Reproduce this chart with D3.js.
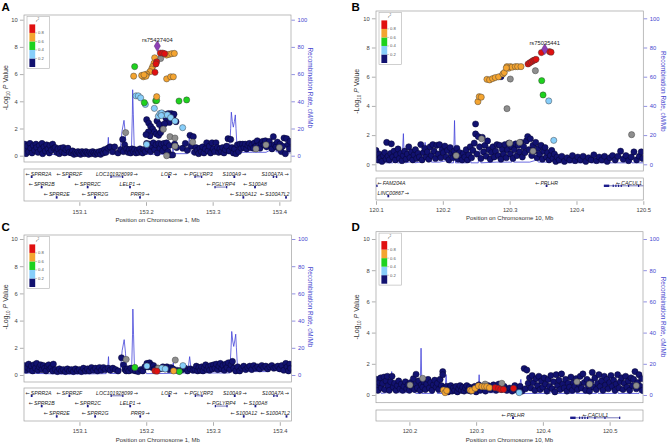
<!DOCTYPE html>
<html>
<head>
<meta charset="UTF-8">
<script src="https://cdn.jsdelivr.net/npm/d3@7"></script>
<style>
  body { margin: 0; background: #fff; }
  svg { font-family: "Liberation Sans", Arial, sans-serif; }
</style>
</head>
<body>
<svg id="chart" width="667" height="443"></svg>
<script>
// ---- data: [position Mb, -log10 p] ----
var navyA = [
  [153.018,0.85],[153.019,0.45],[153.020,0.15],[153.022,0.7],[153.024,0.3],[153.026,0.9],[153.027,0.55],[153.029,0.2],[153.031,0.75],[153.033,0.4],[153.035,0.85],[153.036,0.6],[153.038,0.25],[153.040,0.75],[153.042,0.45],[153.044,0.9],[153.045,0.15],[153.047,0.65],[153.049,0.35],[153.051,0.8],[153.053,0.5],[153.055,0.2],[153.056,0.75],[153.058,0.4],[153.060,0.85],[153.062,0.55],
  [153.064,0.6],[153.066,0.25],[153.068,0.5],[153.070,0.15],[153.072,0.55],[153.074,0.3],[153.076,0.6],[153.078,0.2],[153.080,0.45],[153.083,0.55],[153.085,0.25],
  [153.088,0.2],[153.090,0.35],[153.092,0.1],[153.094,0.25],[153.096,0.15],[153.098,0.3],[153.100,0.2],[153.102,0.1],[153.104,0.3],[153.106,0.2],[153.108,0.15],[153.110,0.3],[153.112,0.2],[153.114,0.1],[153.116,0.25],[153.118,0.15],[153.120,0.3],[153.122,0.2],[153.124,0.1],[153.126,0.25],[153.128,0.15],[153.130,0.3],[153.132,0.1],[153.134,0.35],[153.136,0.2],[153.138,0.45],[153.140,0.25],
  [153.143,0.55],[153.146,0.65],[153.150,0.3],[153.153,0.65],[153.158,0.2],[153.162,0.45],[153.165,1.2],[153.166,0.3],[153.168,0.8],
  [153.171,0.5],[153.173,0.25],[153.175,0.45],[153.177,0.2],[153.179,0.5],[153.181,0.3],[153.183,0.45],[153.185,0.2],[153.187,0.4],[153.189,0.25],[153.191,0.5],[153.193,0.3],[153.195,0.2],[153.197,0.45],[153.199,0.3],
  [153.201,2.65],[153.204,2.4],[153.207,2.15],[153.210,1.95],[153.2125,1.75],[153.2155,1.6],[153.219,1.5],[153.222,1.7],[153.224,2.0],[153.2165,2.55],[153.220,2.3],[153.2265,3.05],[153.230,2.75],[153.2335,3.1],[153.2355,2.9],[153.238,3.1],[153.2405,2.75],[153.242,3.05],[153.235,2.45],[153.228,2.35],[153.245,2.5],[153.2035,1.75],[153.206,1.45],[153.200,1.55],
  [153.201,0.9],[153.203,0.5],[153.205,0.85],[153.207,0.3],[153.209,0.7],[153.211,0.95],[153.213,0.45],[153.215,0.8],[153.217,0.2],[153.219,0.9],[153.221,0.55],[153.223,0.85],[153.225,0.35],[153.227,0.9],[153.229,0.6],[153.231,0.95],[153.233,0.3],[153.235,0.75],[153.237,0.05],[153.240,0.05],[153.243,0.85],[153.246,0.6],
  [153.255,0.55],[153.259,0.9],[153.262,0.4],[153.266,1.5],[153.268,0.7],[153.271,1.4],
  [153.273,0.25],[153.275,0.6],[153.277,0.4],[153.279,0.15],[153.281,0.55],[153.283,0.3],[153.285,0.65],[153.287,0.2],[153.289,0.5],[153.291,0.95],[153.293,0.35],[153.295,0.7],[153.297,0.2],[153.299,0.95],[153.301,0.5],[153.303,0.3],[153.305,0.95],[153.307,0.6],[153.309,0.25],[153.311,0.5],[153.313,0.3],[153.315,0.6],[153.317,0.2],[153.319,0.45],[153.321,0.7],[153.323,1.25],[153.325,0.35],[153.327,1.2],[153.329,0.6],[153.331,0.2],
  [153.333,0.5],[153.335,0.15],[153.337,0.8],[153.339,0.3],
  [153.341,0.85],[153.343,0.55],[153.345,0.85],[153.347,0.6],[153.349,0.85],[153.351,0.5],[153.353,0.75],[153.355,0.9],[153.357,0.6],[153.359,0.8],[153.361,0.55],[153.363,0.95],[153.365,0.7],[153.367,1.1],[153.369,0.75],[153.371,0.55],[153.373,0.9],[153.375,1.05],[153.377,0.8],[153.379,1.1],[153.381,0.65],[153.383,0.9],[153.385,1.05],[153.387,0.75],[153.389,0.5],[153.391,1.4],[153.393,0.8],[153.395,0.65],[153.397,1.0],[153.399,0.55],[153.401,0.85],[153.403,0.3],[153.405,0.7],[153.407,1.3],[153.409,0.15],[153.411,1.25],[153.413,0.8],[153.415,0.5],[153.416,1.05]
];
// [position, -log10 p, LD class]: 1 <0.4, 2 <0.6, 3 <0.8, 4 >=0.8, 5 no LD info
var snpsA = [
  [153.2215,7.55,4],[153.2250,7.55,4],[153.2280,7.5,4],[153.2160,6.9,4],[153.2150,6.75,4],[153.2135,6.13,4],
  [153.2310,7.4,3],[153.2345,7.45,3],[153.2385,7.5,3],[153.2425,7.52,3],[153.2130,7.2,3],[153.2120,6.8,3],[153.2100,6.55,3],[153.2085,6.37,3],[153.2060,6.18,3],[153.2010,6.0,3],[153.1990,5.9,3],[153.1960,5.8,3],[153.1935,5.9,3],[153.1815,5.85,3],[153.2310,5.65,3],[153.2370,5.8,3],[153.2410,5.8,3],[153.2160,4.34,3],[153.2000,5.85,3],[153.1970,5.95,3],
  [153.1830,6.55,2],[153.2145,4.04,2],[153.2160,4.06,2],[153.2495,4.02,2],[153.2610,4.1,2],[153.1975,3.9,2],
  [153.1850,4.4,1],[153.1885,4.4,1],[153.1920,4.25,1],[153.1990,3.77,1],[153.2125,3.48,1],[153.2185,2.9,1],[153.2210,3.1,1],[153.2235,3.15,1],[153.2275,3.0,1],[153.2320,3.0,1],[153.2370,2.8,1],[153.2435,2.55,1],[153.2550,2.06,1],[153.2010,0.83,1],[153.2230,2.95,1],
  [153.2220,7.15,5],[153.1970,5.9,5],[153.1695,1.7,5],[153.2360,1.4,5],[153.2435,1.3,5],[153.2435,0.7,5],[153.2310,0.0,5],[153.2700,1.0,5],[153.2260,1.95,5],[153.3800,0.8,5],[153.4000,0.6,5],[153.3650,0.5,5]
];
var indexA = [["rs75437404", 153.2170, 8.06]];

var navyC = [
  [153.018,0.7],[153.020,0.35],[153.022,0.55],[153.024,0.8],[153.026,0.4],[153.028,0.65],[153.030,0.3],[153.032,0.75],[153.034,0.5],[153.036,0.85],[153.038,0.35],[153.040,0.6],[153.042,0.75],[153.044,0.4],[153.046,0.7],[153.048,0.5],[153.050,0.3],[153.052,0.65],[153.054,0.75],[153.056,0.45],[153.058,0.55],[153.060,0.3],[153.061,0.8],
  [153.064,0.4],[153.067,0.25],[153.070,0.45],[153.073,0.3],[153.076,0.4],[153.079,0.25],[153.082,0.45],[153.085,0.3],[153.088,0.4],[153.091,0.25],[153.094,0.45],[153.097,0.3],[153.100,0.4],[153.103,0.25],[153.106,0.5],[153.109,0.3],[153.112,0.45],[153.115,0.3],[153.118,0.55],[153.121,0.35],[153.124,0.5],[153.127,0.3],[153.130,0.55],[153.133,0.35],[153.136,0.55],[153.139,0.4],
  [153.143,0.5],[153.146,0.35],[153.150,0.5],[153.154,0.4],[153.158,0.3],[153.163,1.27],[153.166,0.75],[153.168,0.4],[153.170,0.3],
  [153.172,0.45],[153.174,0.3],[153.177,0.5],[153.180,0.35],[153.184,0.3],[153.188,0.25],[153.192,0.4],[153.195,0.3],[153.198,0.6],
  [153.201,0.85],[153.203,0.6],[153.205,0.9],[153.207,0.75],[153.209,0.55],[153.211,0.7],[153.213,0.45],[153.217,0.5],[153.221,0.45],[153.225,0.6],[153.228,0.45],[153.231,0.6],[153.234,0.4],[153.237,0.55],[153.240,0.45],[153.246,0.35],[153.250,0.3],
  [153.254,0.4],[153.258,0.5],[153.262,0.3],[153.266,0.45],[153.270,0.35],
  [153.273,0.4],[153.275,0.65],[153.277,0.3],[153.279,0.55],[153.281,0.35],[153.283,0.6],[153.285,0.3],[153.287,0.55],[153.289,0.75],[153.291,0.4],[153.293,0.6],[153.295,0.35],[153.297,0.7],[153.299,0.45],[153.301,0.75],[153.303,0.5],[153.305,0.8],[153.307,0.4],[153.309,0.65],[153.311,0.85],[153.313,0.45],[153.315,0.7],[153.317,0.35],[153.319,0.8],[153.321,0.55],[153.323,0.9],[153.325,0.4],[153.327,0.75],[153.329,1.0],[153.331,0.5],
  [153.334,0.3],[153.337,0.6],[153.340,0.3],[153.343,0.5],[153.346,0.65],[153.349,0.4],[153.352,0.55],[153.355,0.65],[153.358,0.4],[153.361,0.7],[153.364,0.5],[153.367,0.6],[153.370,0.45],[153.373,0.7],[153.376,0.55],[153.379,0.65],[153.382,0.45],[153.385,0.6],[153.388,0.7],[153.391,0.5],[153.394,0.55],[153.397,0.65],[153.400,0.45],[153.403,0.7],[153.406,0.35],[153.409,0.85],[153.411,0.6],[153.413,0.3],[153.415,0.8],[153.416,0.5]
];
var snpsC = [
  [153.2130,0.3,4],[153.2160,0.28,4],[153.2410,0.3,3],[153.1830,0.56,2],[153.2495,0.25,2],
  [153.2010,0.66,1],[153.2235,0.5,1],[153.2285,0.45,1],[153.2550,0.69,1],
  [153.1700,1.15,5],[153.2435,1.1,5],[153.2180,0.5,5]
];
var indexC = [];

var navyB = [
  [120.100,0.95],[120.101,0.5],[120.103,0.3],[120.105,0.7],[120.107,0.45],[120.109,0.2],[120.111,0.6],[120.113,0.8],[120.115,0.35],[120.116,1.5],[120.118,0.55],[120.120,0.3],[120.122,0.75],[120.123,1.4],[120.125,0.5],[120.127,0.9],[120.129,0.3],[120.131,0.65],[120.133,1.05],[120.135,0.4],[120.137,0.75],[120.139,0.25],[120.141,0.6],[120.143,0.9],[120.145,0.35],[120.147,0.7],[120.149,1.2],[120.151,0.45],[120.153,0.85],[120.155,0.3],[120.157,0.65],[120.159,1.0],[120.161,0.4],[120.163,0.75],[120.165,0.5],[120.167,1.35],[120.169,0.3],[120.171,0.8],[120.173,1.1],[120.175,0.5],[120.177,0.85],[120.179,0.35],[120.181,1.2],[120.183,0.6],[120.185,1.35],[120.187,0.9],[120.189,0.4],[120.191,1.3],[120.193,0.7],[120.195,1.35],[120.197,0.45],[120.199,1.0],
  [120.201,0.8],[120.203,1.25],[120.205,0.5],[120.207,0.95],[120.209,0.3],[120.211,1.15],[120.213,0.7],[120.215,0.45],[120.217,0.9],[120.219,0.6],[120.221,1.1],[120.223,0.35],[120.225,0.8],[120.227,0.55],[120.229,0.3],[120.231,0.75],[120.233,0.5],[120.235,1.0],[120.237,0.3],[120.239,0.65],[120.241,1.2],[120.243,0.45],[120.245,0.95],[120.247,1.45],[120.249,2.76],[120.249,2.08],[120.251,0.7],[120.253,1.9],[120.255,1.2],[120.257,0.4],[120.259,1.85],[120.261,0.85],[120.263,1.3],[120.265,0.55],[120.267,1.6],[120.269,1.0],[120.271,0.35],[120.273,0.8],[120.275,1.2],[120.277,0.5],[120.279,0.9],[120.281,1.35],[120.283,0.6],[120.285,1.3],[120.287,0.35],[120.289,1.0],[120.291,0.7],[120.293,1.35],[120.295,0.45],[120.297,1.0],[120.299,1.45],
  [120.301,0.7],[120.303,1.2],[120.305,0.4],[120.307,1.0],[120.309,1.4],[120.311,0.6],[120.313,1.3],[120.315,0.85],[120.317,1.5],[120.319,0.5],[120.321,1.2],[120.323,0.8],[120.325,1.6],[120.327,1.9],[120.329,1.0],[120.331,1.75],[120.333,0.6],[120.335,1.3],[120.337,0.9],[120.339,1.5],[120.341,0.45],[120.343,1.1],[120.345,0.7],[120.347,1.3],[120.349,0.35],[120.351,0.9],[120.353,1.15],[120.355,0.5],[120.357,0.8],[120.359,0.3],[120.361,0.6],[120.363,0.95],[120.365,0.4],[120.367,0.7],[120.369,0.2],[120.371,0.5],[120.374,0.3],[120.378,0.55],[120.382,0.2],[120.386,0.45],[120.390,0.3],[120.394,0.6],[120.398,0.25],
  [120.402,0.5],[120.406,0.3],[120.410,0.55],[120.414,0.2],[120.418,0.45],[120.422,0.3],[120.426,0.65],[120.430,0.25],[120.434,0.5],[120.438,0.3],[120.442,0.55],[120.446,0.2],[120.450,0.45],[120.454,0.6],[120.458,0.3],[120.462,0.55],[120.466,0.9],[120.470,0.35],[120.474,0.6],[120.478,0.25],[120.482,0.5],[120.486,0.85],[120.490,0.3],[120.494,0.55],[120.497,0.85],[120.499,0.4]
];
var snpsB = [
  [120.3475,7.65,4],[120.3595,7.72,4],[120.3620,7.68,4],[120.3275,6.87,4],[120.3300,6.95,4],[120.3325,7.02,4],[120.3350,7.1,4],[120.3375,7.15,4],[120.3395,7.19,4],
  [120.2525,4.29,3],[120.2545,4.63,3],[120.2575,4.6,3],[120.2660,5.82,3],[120.2700,5.78,3],[120.2745,5.87,3],[120.2785,5.94,3],[120.2835,5.99,3],[120.2900,6.19,3],[120.2920,6.28,3],[120.2960,6.69,3],[120.2985,6.58,3],[120.3010,6.69,3],[120.3035,6.65,3],[120.3085,6.69,3],[120.3120,6.69,3],[120.3170,6.69,3],[120.2950,6.6,3],
  [120.3480,5.73,2],[120.3500,4.75,2],
  [120.3585,4.34,1],[120.3660,1.64,1],
  [120.3010,5.84,5],[120.3385,6.41,5],[120.2960,3.81,5],[120.4825,2.03,5],[120.2200,0.6,5],[120.2580,1.75,5],[120.3150,1.5,5],[120.3350,0.9,5],[120.3000,1.45,5]
];
var navyBextra = [[120.2870,6.0]];
var indexB = [["rs75035441", 120.3525, 7.88]];

var navyD = [
  [120.151,1.0],[120.152,0.55],[120.153,0.3],[120.155,0.8],[120.157,1.1],[120.158,0.45],[120.160,0.75],[120.162,1.15],[120.163,0.35],[120.165,0.9],[120.167,1.2],[120.168,0.6],[120.170,0.3],[120.172,0.85],[120.174,1.2],[120.176,0.5],[120.178,0.75],[120.180,0.3],[120.182,0.6],[120.184,0.9],[120.186,0.4],[120.188,0.7],[120.190,0.3],[120.192,0.55],[120.194,0.85],[120.196,0.4],[120.198,0.65],[120.200,0.3],[120.202,0.8],[120.204,0.5],[120.206,1.05],[120.208,0.35],[120.210,0.7],[120.212,0.45],[120.214,0.9],[120.216,0.3],[120.218,0.65],[120.210,1.33],[120.220,0.5],[120.222,0.85],[120.224,0.35],[120.226,0.7],[120.228,1.0],[120.230,0.45],[120.232,0.8],[120.234,0.3],[120.236,0.65],[120.238,0.95],[120.240,0.5],[120.242,0.75],[120.244,0.35],[120.246,1.0],[120.248,0.6],[120.250,1.5],[120.250,1.3],
  [120.252,0.45],[120.254,0.3],[120.256,0.55],[120.258,0.2],[120.260,0.4],[120.262,0.6],[120.264,0.25],[120.266,0.45],[120.268,0.3],[120.270,0.55],[120.272,0.2],[120.274,0.4],[120.276,0.6],[120.278,0.3],[120.280,0.5],[120.282,0.25],[120.284,0.45],[120.286,0.6],[120.288,0.3],[120.290,0.5],[120.292,0.25],[120.294,0.45],[120.296,0.3],[120.298,0.55],[120.300,0.2],[120.302,0.4],[120.304,0.65],[120.306,0.3],[120.310,0.5],[120.314,0.25],[120.318,0.6],[120.322,0.35],[120.326,0.65],[120.330,0.3],[120.334,0.7],[120.338,0.35],[120.342,0.55],[120.346,0.3],[120.350,0.45],[120.354,0.25],[120.358,0.6],[120.362,0.3],[120.366,0.55],[120.369,0.25],
  [120.372,1.7],[120.376,1.6],[120.374,0.4],[120.378,0.75],[120.380,1.1],[120.382,0.45],[120.384,1.25],[120.386,0.8],[120.388,0.3],[120.390,1.05],[120.392,0.6],[120.394,1.2],[120.396,0.35],[120.398,0.9],[120.400,0.5],[120.402,1.1],[120.404,0.7],[120.406,0.25],[120.408,1.0],[120.410,0.55],[120.412,1.25],[120.414,0.4],[120.416,0.85],[120.418,0.2],[120.420,1.3],[120.422,0.6],[120.424,0.95],[120.426,0.35],[120.428,1.35],[120.430,0.7],[120.432,0.45],[120.434,1.0],[120.436,0.25],[120.438,0.75],[120.440,0.5],[120.442,1.15],[120.444,0.3],[120.446,0.8],[120.448,0.55],[120.450,1.05],
  [120.452,0.35],[120.454,0.7],[120.456,1.2],[120.458,0.45],[120.460,1.35],[120.462,0.8],[120.464,0.3],[120.466,1.0],[120.468,0.6],[120.470,0.25],[120.472,0.85],[120.474,1.45],[120.476,0.5],[120.478,1.1],[120.480,0.35],[120.482,0.75],[120.484,1.3],[120.486,0.55],[120.488,0.9],[120.490,0.3],[120.492,1.2],[120.494,0.65],[120.496,1.0],[120.498,0.4],[120.500,0.8],[120.502,1.25],[120.504,0.55],[120.506,0.95],[120.508,0.3],[120.510,0.7],[120.512,1.3],[120.514,0.45],[120.516,0.85],[120.518,1.1],[120.520,0.35],[120.522,0.75],[120.524,1.2],[120.526,0.5],[120.528,0.9],[120.530,0.3],[120.532,1.1],[120.534,0.6],[120.536,1.0],[120.538,1.5],[120.540,0.4],[120.542,0.8],[120.544,1.3],[120.546,0.55],[120.548,1.05],[120.549,0.3]
];
var snpsD = [
  [120.2510,0.32,3],[120.2535,0.15,3],[120.2560,0.28,3],[120.2910,0.32,3],[120.2935,0.28,3],[120.2985,0.43,3],[120.3035,0.58,3],[120.3085,0.54,3],[120.3125,0.54,3],[120.3160,0.54,3],[120.3200,0.47,3],
  [120.3285,0.47,4],[120.3335,0.43,4],[120.3370,0.36,4],[120.3410,0.36,4],[120.3560,0.43,4],
  [120.3645,0.15,1],
  [120.2200,1.07,5],[120.2010,0.64,5],[120.3385,0.75,5],[120.3135,0.7,5],[120.4510,0.85,5],[120.5400,0.6,5],[120.4700,0.7,5]
];
var indexD = [];

// recombination rate, cM/Mb
var recombChr1 = [
  [153.017,1.5],[153.030,1.2],[153.050,1.0],[153.080,0.6],[153.110,0.8],[153.140,1.0],[153.1425,6],[153.1435,13.5],[153.1445,3],[153.146,1.2],[153.158,1.0],[153.161,3],[153.164,18],[153.167,26],[153.169,16],[153.1705,2],[153.178,1.5],[153.1795,30],[153.180,48.5],[153.181,30],[153.1825,3],[153.1835,1.5],[153.190,2.5],[153.193,1.0],[153.199,2.5],[153.2005,1],[153.240,1.2],[153.2405,9],[153.241,1.5],[153.262,1.5],[153.265,13.5],[153.2665,7],[153.268,1.5],[153.300,1.5],[153.325,1.5],[153.327,20],[153.328,32],[153.3295,25],[153.331,21],[153.3325,25],[153.334,30],[153.335,20],[153.337,2.5],[153.360,2.5],[153.380,2.5],[153.386,4],[153.391,5],[153.395,3],[153.400,2.5],[153.4175,2.0]
];
var recombChr10 = [
  [120.100,4],[120.102,1],[120.108,1],[120.112,3],[120.114,1],[120.125,1],[120.130,2.5],[120.132,1],[120.139,1],[120.140,12],[120.141,21],[120.142,8],[120.1435,1],[120.150,1.5],[120.156,3],[120.158,1],[120.166,1.5],[120.172,2],[120.1735,15],[120.175,3],[120.178,1.5],[120.181,7],[120.183,1.5],[120.195,1.5],[120.205,2.5],[120.210,1],[120.216,1],[120.2175,30],[120.219,1],[120.236,1],[120.237,5],[120.241,5],[120.242,1],[120.253,1],[120.255,13],[120.257,1],[120.280,1.5],[120.290,1.5],[120.303,1.5],[120.3045,13],[120.306,1.5],[120.330,1.5],[120.341,3],[120.343,1.5],[120.360,1.5],[120.365,6],[120.367,10],[120.369,2],[120.372,1],[120.410,1],[120.420,3.5],[120.422,1],[120.447,1],[120.4485,4],[120.450,1],[120.480,1],[120.481,4],[120.483,1],[120.510,1],[120.511,4],[120.513,1],[120.544,1],[120.546,4],[120.548,1],[120.550,1]
];

// genes: [name, start, end, strand, row, exons]
var genesChr1 = [
  ["SPRR2A",153.0280,153.0290,"-",0],["SPRR2F",153.0845,153.0855,"-",0],["LOC101928099",153.1475,153.1650,"+",0],
  ["LOR",153.2340,153.2350,"+",0],["PGLYRP3",153.2735,153.2835,"-",0],["S100A9",153.3320,153.3330,"+",0],["S100A7A",153.3910,153.3960,"+",0],
  ["SPRR2B",153.0430,153.0440,"-",1],["SPRR2C",153.1120,153.1130,"-",1],["LELP1",153.1755,153.1765,"+",1],["PGLYRP4",153.3035,153.3210,"-",1],["S100A8",153.3630,153.3640,"-",1],
  ["SPRR2E",153.0655,153.0665,"-",2],["SPRR2G",153.1230,153.1240,"-",2],["PRR9",153.1905,153.1915,"+",2],["S100A12",153.3455,153.3465,"-",2],["S100A7L2",153.4095,153.4105,"-",2]
];
var cacul1Exons = [[120.441,120.449],[120.455,120.4556],[120.459,120.4596],[120.463,120.4636],[120.467,120.4676],[120.478,120.4786],[120.493,120.4936],[120.5150,120.5158]];
var genesChr10 = [
  ["FAM204A",120.080,120.1015,"-",0],["LINC00867",120.1178,120.1190,"+",1],["PRLHR",120.3545,120.3560,"-",0],["CACUL1",120.441,120.516,"-",0,cacul1Exons]
];

var ticksChr1 = [153.1, 153.2, 153.3, 153.4];
var ticksB = [120.1, 120.2, 120.3, 120.4, 120.5];
var ticksD = [120.2, 120.3, 120.4, 120.5];
var ldBreaks = [0.8, 0.6, 0.4, 0.2];

// ---- drawing ----
var ldColors = ["#121270", "#87cefa", "#1ed21e", "#f4a430", "#e01010", "#8e8e8e"];
var drawOrder = [0, 5, 1, 2, 3, 4];
var blue = "#4646cf";
var svg = d3.select("#chart");

var panels = [
  {id: "A", chr: "1", navy: navyA, snps: snpsA, index: indexA, recomb: recombChr1, genes: genesChr1, ticks: ticksChr1,
   xDomain: [153.017, 153.4175], x0: 24, x1: 291, top: 15, bottom: 162, y0: 155.7, y10: 19.7,
   gTop: 169, gBottom: 201, tickY: 212, titleY: 219.5, lx: 1.5, ly: 10.8, ytx: 6, rtx: 310},
  {id: "B", chr: "10", navy: navyB.concat(navyBextra), snps: snpsB, index: indexB, recomb: recombChr10, genes: genesChr10, ticks: ticksB,
   xDomain: [120.1, 120.5], x0: 376, x1: 643.3, top: 11, bottom: 171, y0: 164.3, y10: 18.3,
   gTop: 178, gBottom: 200, tickY: 209.5, titleY: 218, lx: 351.5, ly: 10.8, ytx: 357, rtx: 663},
  {id: "C", chr: "1", navy: navyC, snps: snpsC, index: indexC, recomb: recombChr1, genes: genesChr1, ticks: ticksChr1,
   xDomain: [153.017, 153.4175], x0: 24, x1: 291.5, top: 235, bottom: 382, y0: 375, y10: 239,
   gTop: 388, gBottom: 421, tickY: 431, titleY: 439.5, lx: 1.5, ly: 231, ytx: 6, rtx: 310},
  {id: "D", chr: "10", navy: navyD, snps: snpsD, index: indexD, recomb: recombChr10, genes: genesChr10, ticks: ticksD,
   xDomain: [120.15, 120.55], x0: 376, x1: 643, top: 231.7, bottom: 402.7, y0: 395, y10: 239,
   gTop: 410, gBottom: 421, tickY: 431, titleY: 439.5, lx: 351.5, ly: 231, ytx: 357, rtx: 663}
];

function drawPanel(p) {
  var g = svg.append("g");
  var x = d3.scaleLinear().domain(p.xDomain).range([p.x0, p.x1]);
  var y = d3.scaleLinear().domain([0, 10]).range([p.y0, p.y10]);
  var yR = d3.scaleLinear().domain([0, 100]).range([p.y0, p.y10]);

  var clipId = "clip" + p.id, gclipId = "gclip" + p.id;
  g.append("clipPath").attr("id", clipId).append("rect")
    .attr("x", p.x0).attr("y", p.top).attr("width", p.x1 - p.x0).attr("height", p.bottom - p.top);
  g.append("clipPath").attr("id", gclipId).append("rect")
    .attr("x", p.x0).attr("y", p.gTop).attr("width", p.x1 - p.x0).attr("height", p.gBottom - p.gTop);

  var plot = g.append("g").attr("clip-path", "url(#" + clipId + ")");

  // recombination rate
  plot.append("path").datum(p.recomb)
    .attr("d", d3.line().x(function(d) { return x(d[0]); }).y(function(d) { return yR(d[1]); }))
    .attr("fill", "none").attr("stroke", "#3c3cd8").attr("stroke-width", 0.9).attr("opacity", 0.85);

  // snps
  var pts = p.navy.map(function(d) { return [d[0], d[1], 0]; }).concat(p.snps);
  pts.sort(function(a, b) { return drawOrder.indexOf(a[2]) - drawOrder.indexOf(b[2]); });
  plot.selectAll("circle.snp").data(pts).join("circle")
    .attr("class", "snp")
    .attr("cx", function(d) { return x(d[0]); })
    .attr("cy", function(d) { return y(d[1]); })
    .attr("r", 3.1)
    .attr("fill", function(d) { return ldColors[d[2]]; })
    .attr("stroke", function(d) { return d[2] == 0 ? "#05052a" : "#3a3a3a"; })
    .attr("stroke-width", 0.45);

  // index snp
  plot.selectAll("path.idx").data(p.index).join("path")
    .attr("class", "idx")
    .attr("transform", function(d) { return "translate(" + x(d[1]) + "," + y(d[2]) + ")"; })
    .attr("d", d3.symbol(d3.symbolDiamond, 34))
    .attr("fill", "#8e3fb5").attr("stroke", "#4a2060").attr("stroke-width", 0.4);
  g.selectAll("text.idxlab").data(p.index).join("text")
    .attr("class", "idxlab")
    .attr("x", function(d) { return x(d[1]); })
    .attr("y", function(d) { return y(d[2]) - 4.4; })
    .attr("text-anchor", "middle").attr("font-size", 5.8).attr("fill", "#222")
    .text(function(d) { return d[0]; });

  // frame
  g.append("rect").attr("x", p.x0).attr("y", p.top).attr("width", p.x1 - p.x0).attr("height", p.bottom - p.top)
    .attr("fill", "none").attr("stroke", "#a0a0a0").attr("stroke-width", 0.7);

  // left axis
  var la = g.append("g").attr("transform", "translate(" + (p.x0 - 0.5) + ",0)")
    .call(d3.axisLeft(y).tickValues([0, 2, 4, 6, 8, 10]).tickSize(3.6).tickPadding(2.3));
  la.select(".domain").remove();
  la.selectAll("line").attr("stroke", "#777").attr("stroke-width", 0.6);
  la.selectAll("text").attr("font-size", 5.8).attr("fill", "#444").attr("font-family", "Liberation Sans, Arial, sans-serif");

  // right axis
  var ra = g.append("g").attr("transform", "translate(" + (p.x1 + 0.5) + ",0)")
    .call(d3.axisRight(yR).tickValues([0, 20, 40, 60, 80, 100]).tickSize(3.4).tickPadding(2.6));
  ra.select(".domain").remove();
  ra.selectAll("line").attr("stroke", blue).attr("stroke-width", 0.6);
  ra.selectAll("text").attr("font-size", 5.8).attr("fill", blue).attr("font-family", "Liberation Sans, Arial, sans-serif");

  // axis titles
  var ymid = (p.y0 + p.y10) / 2;
  var yt = g.append("text").attr("transform", "translate(" + p.ytx + "," + ymid + ") rotate(-90)")
    .attr("text-anchor", "middle").attr("font-size", 7).attr("fill", "#333").attr("dy", "0.35em");
  yt.append("tspan").text("-Log");
  yt.append("tspan").attr("font-size", 4.6).attr("dy", 1.6).text("10");
  yt.append("tspan").attr("dy", -1.6).text(" ");
  yt.append("tspan").attr("font-style", "italic").text("P");
  yt.append("tspan").text(" Value");

  g.append("text").attr("transform", "translate(" + p.rtx + "," + ymid + ") rotate(90)")
    .attr("text-anchor", "middle").attr("dy", "0.35em").attr("font-size", 6.4).attr("fill", blue)
    .text("Recombination Rate, cM/Mb");

  // legend
  var lg = g.append("g").attr("transform", "translate(" + (p.x0 + 3) + "," + (p.top + 1.4) + ")");
  lg.append("rect").attr("width", 22.5).attr("height", 52).attr("fill", "#fff")
    .attr("stroke", "#b0b0b0").attr("stroke-width", 0.6);
  var ls = d3.scaleLinear().domain([0, 1]).range([50.6, 8]);
  var edges = [0, 0.2, 0.4, 0.6, 0.8, 1];
  lg.selectAll("rect.blk").data(d3.range(5)).join("rect")
    .attr("class", "blk")
    .attr("x", 2.4).attr("width", 5.8)
    .attr("y", function(i) { return ls(edges[i + 1]); })
    .attr("height", function(i) { return ls(edges[i]) - ls(edges[i + 1]); })
    .attr("fill", function(i) { return ldColors[i]; });
  lg.selectAll("line.lt").data(ldBreaks).join("line")
    .attr("class", "lt")
    .attr("x1", 8.2).attr("x2", 10).attr("y1", ls).attr("y2", ls)
    .attr("stroke", "#777").attr("stroke-width", 0.4);
  lg.selectAll("text.ll").data(ldBreaks).join("text")
    .attr("class", "ll")
    .attr("x", 11).attr("y", ls).attr("dy", "0.35em")
    .attr("font-size", 4.2).attr("fill", "#555")
    .text(function(d) { return d.toFixed(1); });
  var rt = lg.append("text").attr("x", 10.5).attr("y", 5.6).attr("text-anchor", "middle")
    .attr("font-size", 4.4).attr("fill", "#555");
  rt.append("tspan").attr("font-style", "italic").text("r");
  rt.append("tspan").attr("font-size", 3).attr("dy", -1.5).text("2");

  // gene panel
  g.append("rect").attr("x", p.x0).attr("y", p.gTop).attr("width", p.x1 - p.x0).attr("height", p.gBottom - p.gTop)
    .attr("fill", "none").attr("stroke", "#a0a0a0").attr("stroke-width", 0.7);
  var genes = p.genes.filter(function(d) { return d[2] >= p.xDomain[0] && d[1] <= p.xDomain[1]; });
  var gb = g.append("g").attr("clip-path", "url(#" + gclipId + ")");
  var rowLab = function(r) { return p.gTop + 4.7 + r * 10.3; };
  var rowBody = function(r) { return p.gTop + 7.8 + r * 10.3; };
  var geneFill = "#1c1c8c";
  genes.forEach(function(d) {
    var xs = x(d[1]), xe = x(d[2]), by = rowBody(d[4]);
    if (xe - xs > 2.5) {
      gb.append("line").attr("x1", xs).attr("x2", xe).attr("y1", by).attr("y2", by)
        .attr("stroke", geneFill).attr("stroke-width", 0.6);
      var ex = d[5] || [[d[1], d[1]], [d[2], d[2]]];
      ex.forEach(function(e) {
        var w = Math.max(1.2, x(e[1]) - x(e[0]));
        gb.append("rect").attr("x", x(e[0]) - (x(e[1]) - x(e[0]) < 1.2 ? 0.6 : 0)).attr("y", by - 1.2)
          .attr("width", w).attr("height", 2.4).attr("fill", geneFill);
      });
    } else {
      gb.append("rect").attr("x", (xs + xe) / 2 - 0.9).attr("y", by - 1.2).attr("width", 1.8).attr("height", 2.4)
        .attr("fill", geneFill);
    }
    var t = g.append("text").attr("y", rowLab(d[4])).attr("dy", "0.35em")
      .attr("text-anchor", "middle").attr("font-size", 5.2).attr("font-style", "italic").attr("fill", "#222");
    var arrow = function() {
      t.append("tspan").attr("font-family", "DejaVu Sans").attr("font-style", "normal")
        .attr("font-size", 5).text(d[3] == "-" ? "\u2190" : "\u2192");
    };
    if (d[3] == "-") { arrow(); t.append("tspan").text("\u2009" + d[0]); }
    else { t.append("tspan").text(d[0] + "\u2009"); arrow(); }
    var hw = t.node().getComputedTextLength() / 2;
    var cx = Math.max(p.x0 + hw + 1.5, Math.min(p.x1 - hw - 1.5, (xs + xe) / 2));
    t.attr("x", cx);
  });

  // x axis
  var xa = g.append("g").attr("transform", "translate(0," + (p.gBottom + 1.2) + ")")
    .call(d3.axisBottom(x).tickValues(p.ticks).tickFormat(d3.format(".1f")).tickSize(3.6));
  xa.select(".domain").remove();
  xa.selectAll("line").attr("stroke", "#777").attr("stroke-width", 0.6);
  xa.selectAll("text").attr("y", p.tickY - p.gBottom - 1.2).attr("dy", "0.36em")
    .attr("font-size", 5.8).attr("fill", "#444").attr("font-family", "Liberation Sans, Arial, sans-serif");

  g.append("text").attr("x", (p.x0 + p.x1) / 2).attr("y", p.titleY).attr("dy", "0.36em")
    .attr("text-anchor", "middle").attr("font-size", 6).attr("fill", "#333")
    .text("Position on Chromosome " + p.chr + ", Mb");

  // panel letter
  g.append("text").attr("x", p.lx).attr("y", p.ly).attr("font-size", 11.5).attr("font-weight", "bold")
    .attr("fill", "#000").text(p.id);
}

panels.forEach(drawPanel);
</script>
</body>
</html>
